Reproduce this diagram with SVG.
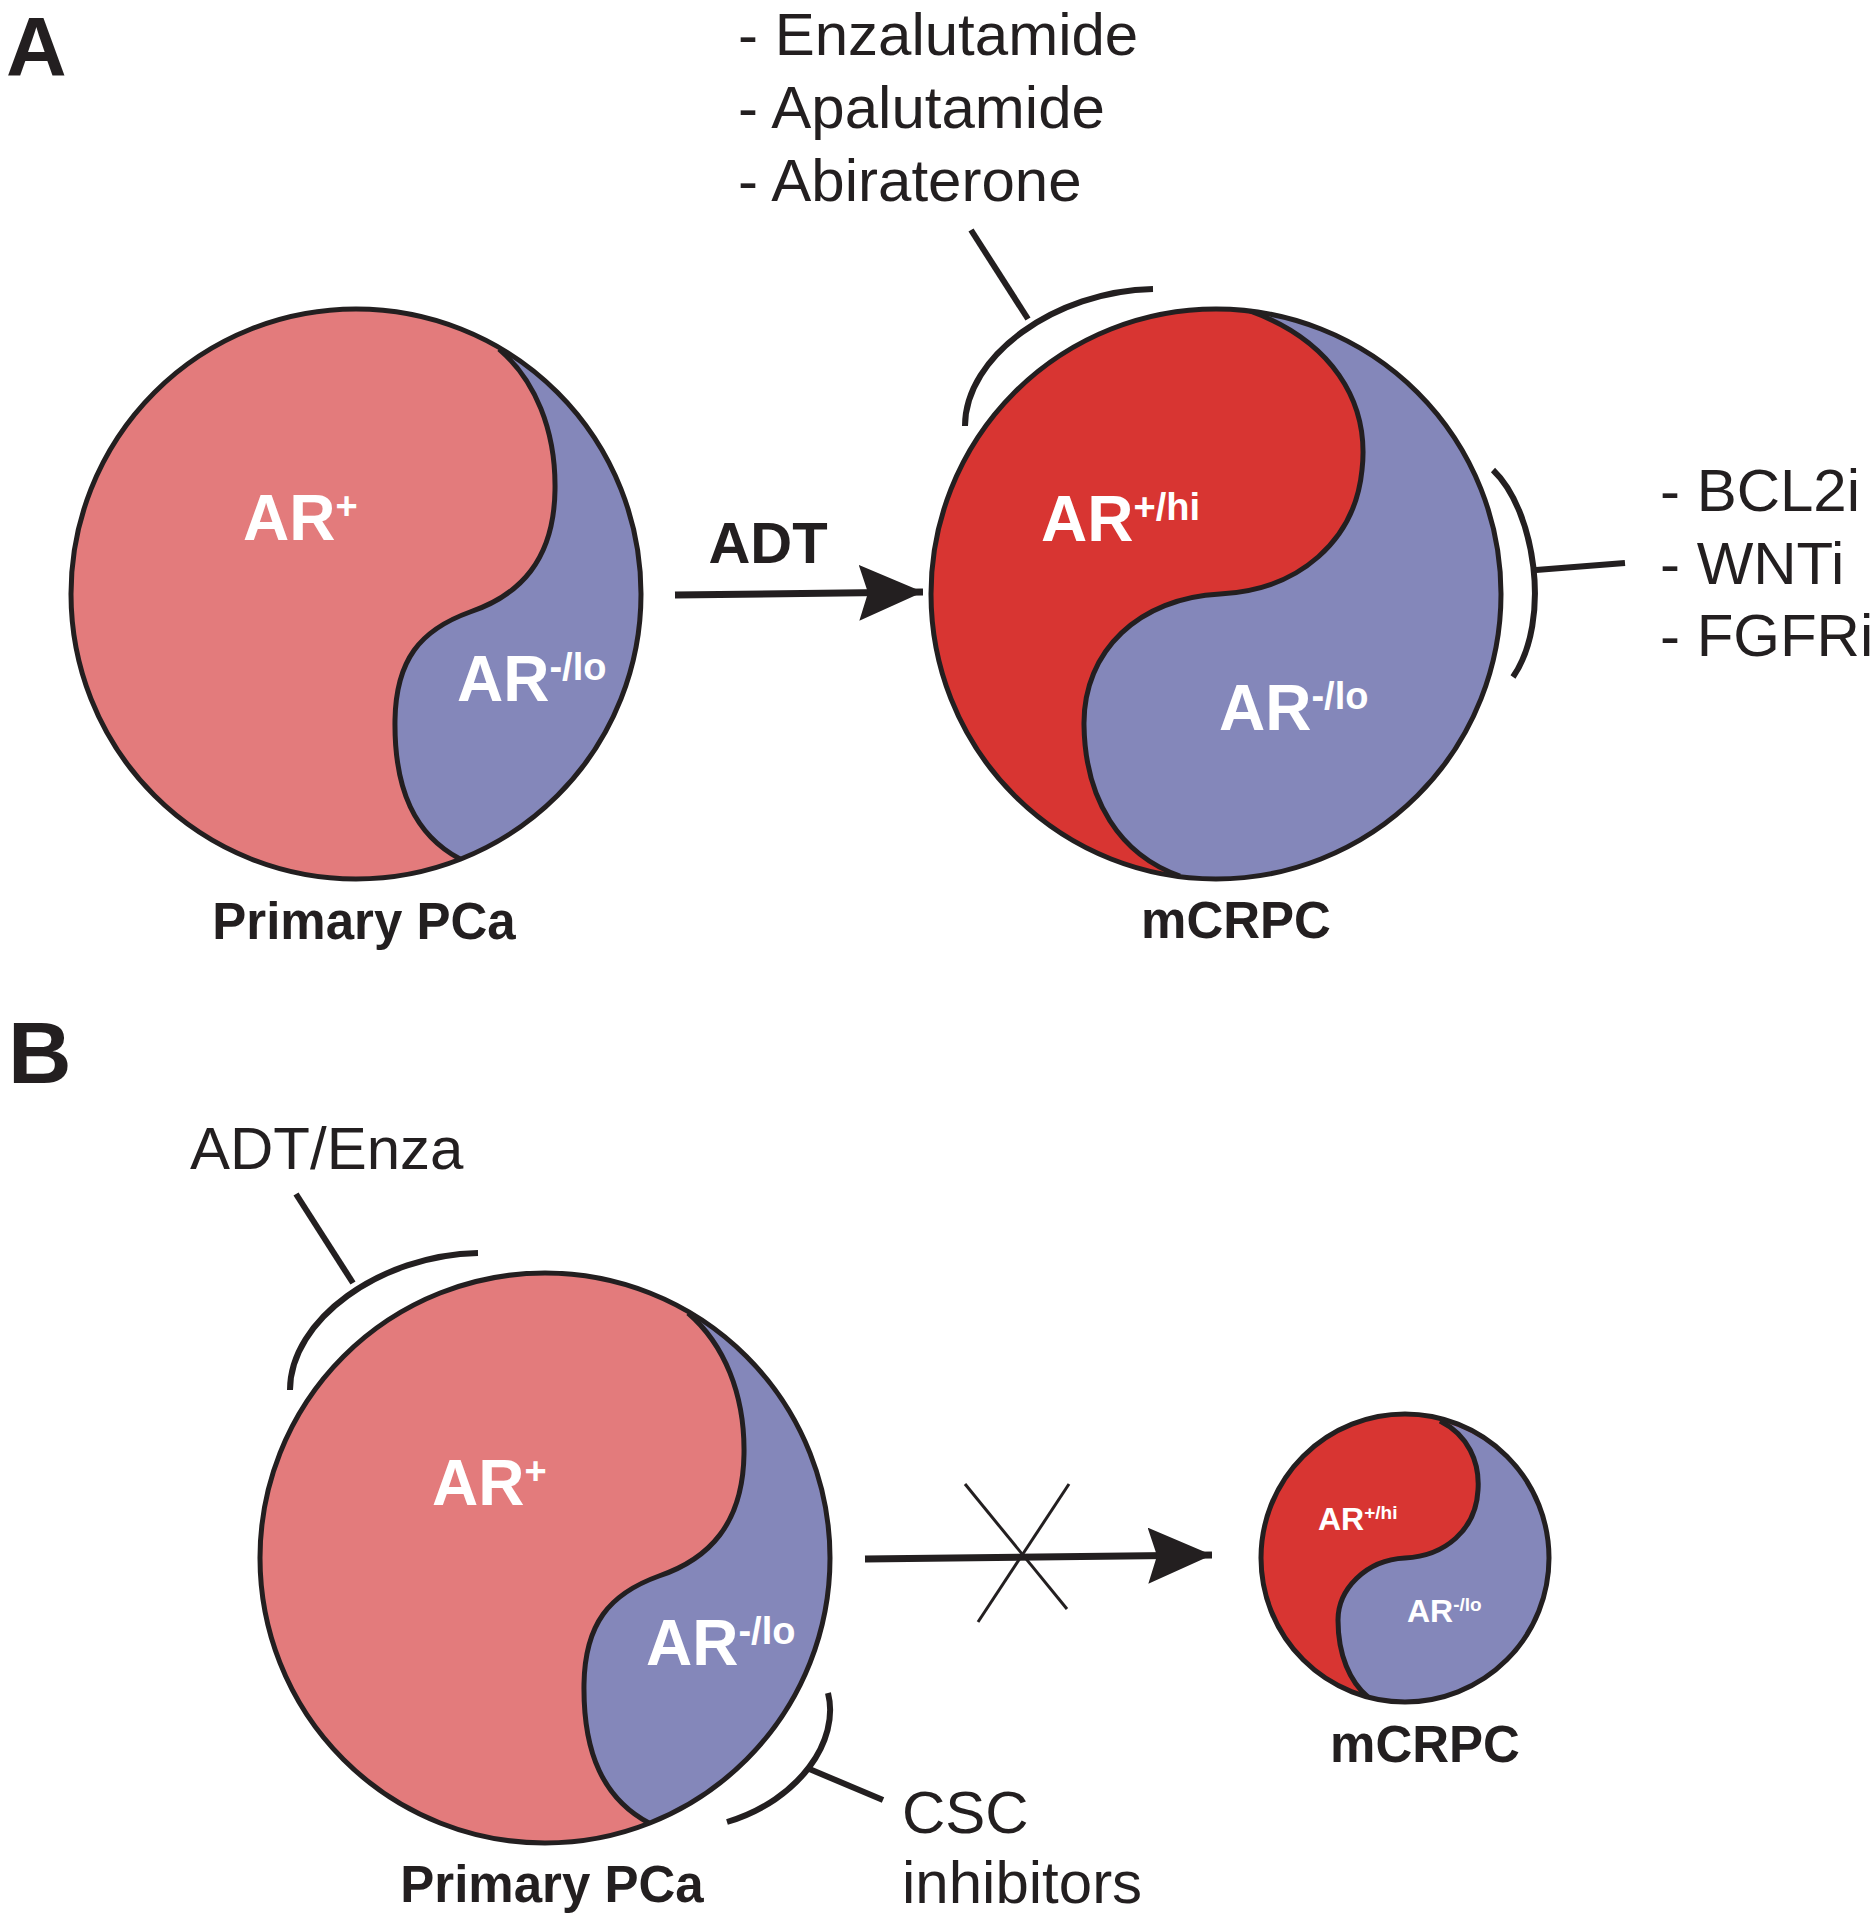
<svg xmlns="http://www.w3.org/2000/svg" width="1876" height="1920" viewBox="0 0 1876 1920">
<style>
.ol{fill:none;stroke:#231F20;stroke-width:5;stroke-linejoin:round}
.br{fill:none;stroke:#231F20;stroke-width:6;stroke-linecap:butt}
.salmon{fill:#E37B7C}
.red{fill:#D83532}
.blue{fill:#8487BA}
.lbl{font-family:"Liberation Sans",Arial,sans-serif;font-weight:bold;fill:#FFFFFF}
.cap{font-family:"Liberation Sans",Arial,sans-serif;font-weight:bold;fill:#231F20}
.txt{font-family:"Liberation Sans",Arial,sans-serif;fill:#231F20;font-size:60px}
</style>
<defs>
<marker id="head" viewBox="0 0 64 56" refX="64" refY="28" markerWidth="64" markerHeight="56" markerUnits="userSpaceOnUse" orient="auto">
<path d="M64 28 L0 0 L9 28 L0 56 Z" fill="#231F20"/>
</marker>
</defs>
<rect width="1876" height="1920" fill="#FFFFFF"/>

<g id="panel-labels">
<text class="cap" x="6" y="76" font-size="84">A</text>
<text class="cap" x="8" y="1083" font-size="88">B</text>
</g>

<g id="nodeA-primary">
<circle cx="356" cy="594" r="285" class="salmon"/>
<path class="blue" d="M499 349 C535 380 556 430 555 490 C554 560 520 595 470 612 C420 630 396 660 395 720 C394 790 415 835 460 859 A285 285 0 0 0 499 349 Z"/>
<path class="ol" d="M499 349 C535 380 556 430 555 490 C554 560 520 595 470 612 C420 630 396 660 395 720 C394 790 415 835 460 859"/>
<circle cx="356" cy="594" r="285" class="ol"/>
<text class="lbl" x="243" y="540" font-size="64">AR<tspan font-size="38" dy="-21">+</tspan></text>
<text class="lbl" x="457" y="701" font-size="64">AR<tspan font-size="38" dy="-21">-/lo</tspan></text>
<text class="cap" x="364" y="939" font-size="51" text-anchor="middle">Primary PCa</text>
</g>

<g id="nodeA-mcrpc">
<circle cx="1216" cy="594" r="285" class="red"/>
<path class="blue" d="M1250 311 C1330 340 1370 400 1362 470 C1355 540 1300 590 1220 594 C1140 598 1083 650 1084 725 C1085 800 1120 855 1180 876 A285 285 0 0 0 1501 594 A285 285 0 0 0 1250 311 Z"/>
<path class="ol" d="M1250 311 C1330 340 1370 400 1362 470 C1355 540 1300 590 1220 594 C1140 598 1083 650 1084 725 C1085 800 1120 855 1180 876"/>
<circle cx="1216" cy="594" r="285" class="ol"/>
<text class="lbl" x="1041" y="541" font-size="64">AR<tspan font-size="38" dy="-21">+/hi</tspan></text>
<text class="lbl" x="1219" y="730" font-size="64">AR<tspan font-size="38" dy="-21">-/lo</tspan></text>
<text class="cap" x="1236" y="938" font-size="51" text-anchor="middle">mCRPC</text>
</g>

<g id="drugsA-top">
<text class="txt" x="738" y="55">- Enzalutamide</text>
<text class="txt" x="738" y="128">- Apalutamide</text>
<text class="txt" x="738" y="201">- Abiraterone</text>
</g>

<g id="drugsA-right">
<text class="txt" x="1660" y="511">- BCL2i</text>
<text class="txt" x="1660" y="584">- WNTi</text>
<text class="txt" x="1660" y="656">- FGFRi</text>
</g>

<g id="nodeB-primary">
<circle cx="545" cy="1558" r="285" class="salmon"/>
<path class="blue" d="M688 1313 C724 1344 745 1394 744 1454 C743 1524 709 1559 659 1576 C609 1594 585 1624 584 1684 C583 1754 604 1799 649 1823 A285 285 0 0 0 688 1313 Z"/>
<path class="ol" d="M688 1313 C724 1344 745 1394 744 1454 C743 1524 709 1559 659 1576 C609 1594 585 1624 584 1684 C583 1754 604 1799 649 1823"/>
<circle cx="545" cy="1558" r="285" class="ol"/>
<text class="lbl" x="432" y="1505" font-size="64">AR<tspan font-size="38" dy="-21">+</tspan></text>
<text class="lbl" x="646" y="1665" font-size="64">AR<tspan font-size="38" dy="-21">-/lo</tspan></text>
<text class="cap" x="552" y="1902" font-size="51" text-anchor="middle">Primary PCa</text>
</g>

<g id="nodeB-mcrpc">
<circle cx="1405" cy="1558" r="144" class="red"/>
<path class="blue" d="M1440 1421 C1468 1435 1480 1462 1478 1490 C1476 1530 1445 1556 1405 1558 C1365 1560 1338 1590 1338 1620 C1338 1655 1350 1682 1368 1697 A144 144 0 0 0 1549 1558 A144 144 0 0 0 1440 1421 Z"/>
<path class="ol" d="M1440 1421 C1468 1435 1480 1462 1478 1490 C1476 1530 1445 1556 1405 1558 C1365 1560 1338 1590 1338 1620 C1338 1655 1350 1682 1368 1697"/>
<circle cx="1405" cy="1558" r="144" class="ol"/>
<text class="lbl" x="1318" y="1530" font-size="32">AR<tspan font-size="19" dy="-11">+/hi</tspan></text>
<text class="lbl" x="1407" y="1622" font-size="32">AR<tspan font-size="19" dy="-11">-/lo</tspan></text>
<text class="cap" x="1425" y="1762" font-size="51" text-anchor="middle">mCRPC</text>
</g>

<g id="labelsB">
<text class="txt" x="190" y="1169">ADT/Enza</text>
<text class="txt" x="902" y="1833">CSC</text>
<text class="txt" x="902" y="1903">inhibitors</text>
</g>

<g id="connectors">
<line x1="675" y1="595" x2="923" y2="592" stroke="#231F20" stroke-width="7" marker-end="url(#head)"/>
<text class="cap" x="768" y="563" font-size="58" text-anchor="middle">ADT</text>
<line x1="865" y1="1559" x2="1212" y2="1555" stroke="#231F20" stroke-width="7" marker-end="url(#head)"/>
<line x1="965" y1="1484" x2="1067" y2="1609" stroke="#231F20" stroke-width="3"/>
<line x1="1069" y1="1484" x2="978" y2="1622" stroke="#231F20" stroke-width="3"/>
<path class="br" d="M965 426 C965 356 1055 291 1153 289"/>
<line class="br" x1="1028" y1="319" x2="971" y2="230"/>
<path class="br" d="M1493 470 C1535 510 1552 620 1513 677"/>
<line class="br" x1="1536" y1="570" x2="1625" y2="563"/>
<path class="br" d="M290 1390 C290 1320 380 1255 478 1253"/>
<line class="br" x1="353" y1="1283" x2="296" y2="1194"/>
<path class="br" d="M828 1693 C840 1740 800 1800 727 1822"/>
<line class="br" x1="807" y1="1768" x2="883" y2="1800"/>
</g>
</svg>
